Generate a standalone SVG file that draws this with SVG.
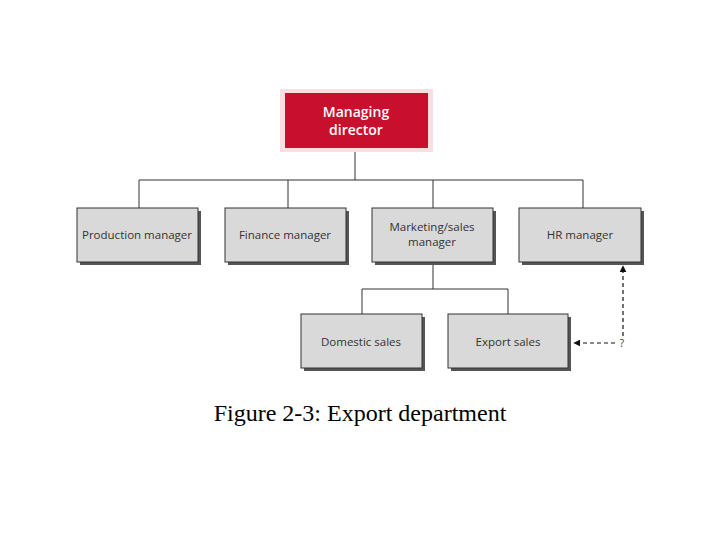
<svg xmlns="http://www.w3.org/2000/svg" width="720" height="540" viewBox="0 0 720 540">
<defs>
<marker id="ah" viewBox="0 0 10 10" refX="9" refY="5" markerWidth="7" markerHeight="7" markerUnits="userSpaceOnUse" orient="auto">
<path d="M0,0 L10,5 L0,10 z" fill="#111"/>
</marker>
<style>
.box{fill:#d9d9d9;stroke:#333;stroke-width:1}
.sh{fill:#555}
.t{font-family:"Open Sans","DejaVu Sans",sans-serif;font-size:11.5px;fill:#333;text-anchor:middle}
.ln{stroke:#333;stroke-width:1;fill:none}
.dash{stroke:#111;stroke-width:1.2;fill:none;stroke-dasharray:4,3}
</style>
</defs>
<rect width="720" height="540" fill="#fff"/>
<g id="connectors">
<path class="ln" d="M355,148 V180 M139,180 H583 M139,180 V208 M288,180 V208 M433,180 V208 M583,180 V208"/>
<path class="ln" d="M433,262 V289 M362,289 H508 M362,289 V314 M508,289 V314"/>
<path class="dash" d="M623,336 V266" marker-end="url(#ah)"/>
<path class="dash" d="M615,343 H574" marker-end="url(#ah)"/>
<text x="622" y="347" style="font-family:'Open Sans','DejaVu Sans',sans-serif;font-size:10px;fill:#333" text-anchor="middle">?</text>
</g>
<g id="managing-director">
<rect x="280" y="89" width="153" height="63" fill="#f9dfe2"/>
<rect x="285" y="93" width="143" height="55" fill="#c8102e"/>
<text x="356" y="117" style="font-family:'Open Sans','DejaVu Sans',sans-serif;font-size:14px;font-weight:600;fill:#fff" text-anchor="middle">Managing</text>
<text x="356" y="135" style="font-family:'Open Sans','DejaVu Sans',sans-serif;font-size:14px;font-weight:600;fill:#fff" text-anchor="middle">director</text>
</g>
<g id="production-manager">
<rect class="sh" x="80" y="211" width="121" height="54"/>
<rect class="box" x="77" y="208" width="121" height="54"/>
<text class="t" x="137" y="239">Production manager</text>
</g>
<g id="finance-manager">
<rect class="sh" x="228" y="211" width="121" height="54"/>
<rect class="box" x="225" y="208" width="121" height="54"/>
<text class="t" x="285" y="239">Finance manager</text>
</g>
<g id="marketing-sales-manager">
<rect class="sh" x="375" y="211" width="121" height="54"/>
<rect class="box" x="372" y="208" width="121" height="54"/>
<text class="t" x="432" y="231">Marketing/sales</text>
<text class="t" x="432" y="246">manager</text>
</g>
<g id="hr-manager">
<rect class="sh" x="522" y="211" width="122" height="54"/>
<rect class="box" x="519" y="208" width="122" height="54"/>
<text class="t" x="580" y="239">HR manager</text>
</g>
<g id="domestic-sales">
<rect class="sh" x="304" y="317" width="121" height="54"/>
<rect class="box" x="301" y="314" width="121" height="54"/>
<text class="t" x="361" y="346">Domestic sales</text>
</g>
<g id="export-sales">
<rect class="sh" x="451" y="317" width="120" height="54"/>
<rect class="box" x="448" y="314" width="120" height="54"/>
<text class="t" x="508" y="346">Export sales</text>
</g>
<text x="360" y="421" style="font-family:'Liberation Serif',serif;font-size:24px;fill:#000" text-anchor="middle">Figure 2-3: Export department</text>
</svg>
